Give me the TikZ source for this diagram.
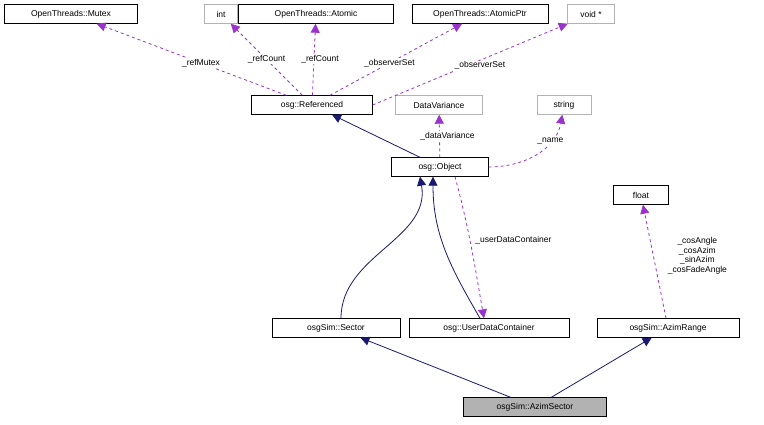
\documentclass[tikz,border=0pt]{standalone}
\usepackage{fontspec}
\setmainfont{Liberation Sans}
\usetikzlibrary{arrows.meta}
\definecolor{inhcol}{HTML}{191970}
\definecolor{memcol}{HTML}{9A32CD}
\tikzset{
  cls/.style = {draw, minimum height=19pt, inner sep=2pt, font=\fontsize{8.5}{10}\selectfont},
  ext/.style = {cls, draw=gray!60},
  inh/.style = {draw=inhcol, thick, -{Triangle[fill=inhcol, length=9pt, width=9pt]}},
  mem/.style = {draw=memcol, thick, dashed, -{Triangle[fill=memcol, length=9pt, width=9pt]}},
  lbl/.style = {font=\fontsize{8.5}{9.5}\selectfont, fill=white, inner sep=1pt}
}
\begin{document}
\begin{tikzpicture}[x=1pt, y=-1pt]
		\useasboundingbox (0,0) rectangle (764,425);
		
		% member types
		\node[cls, minimum width=133pt] (mutex) at (71,14) {OpenThreads::Mutex};
		\node[ext, minimum width=33pt] (int) at (221,14) {int};
		\node[cls, minimum width=155pt] (atomic) at (316,14) {OpenThreads::Atomic};
		\node[cls, minimum width=136pt] (atomicptr) at (480,14) {OpenThreads::AtomicPtr};
		\node[ext, minimum width=47pt] (void) at (591,14) {void *};
		\node[ext, minimum width=87pt] (datavar) at (439,105) {DataVariance};
		\node[ext, minimum width=54pt] (string) at (564,105) {string};
		\node[cls, minimum width=55pt] (float) at (641,195) {float};
		
		% classes
		\node[cls, minimum width=121pt] (referenced) at (312,105) {osg::Referenced};
		\node[cls, minimum width=97pt] (object) at (440,167) {osg::Object};
		\node[cls, minimum width=128pt] (sector) at (336,328) {osgSim::Sector};
		\node[cls, minimum width=160pt] (udc) at (489,328) {osg::UserDataContainer};
		\node[cls, minimum width=142pt] (azimrange) at (668,328) {osgSim::AzimRange};
		\node[cls, minimum width=143pt, fill=gray!60] (azimsector) at (535,407) {osgSim::AzimSector};
		
		% inheritance
		\draw[inh] (azimsector) -- (sector);
		\draw[inh] (azimsector) -- (azimrange);
		\draw[inh] ([xshift=5pt]sector.north) to[out=90, in=-80] ([xshift=-20pt]object.south);
		\draw[inh] ([xshift=-9pt]udc.north) to[out=120, in=-90] ([xshift=-7pt]object.south);
		\draw[inh] (object) -- (referenced);
		
		% members
		\draw[mem] (referenced) -- node[lbl, pos=0.45] {\_refMutex} (mutex);
		\draw[mem] (referenced) -- node[lbl, pos=0.5] {\_refCount} (int);
		\draw[mem] (referenced) -- node[lbl, pos=0.5, xshift=6pt] {\_refCount} (atomic);
		\draw[mem] (referenced) -- node[lbl, pos=0.45] {\_observerSet} (atomicptr);
		\draw[mem] (referenced.east) -- node[lbl, pos=0.55, below] {\_observerSet} (void);
		\draw[mem] (object) -- node[lbl, pos=0.5, xshift=8pt] {\_dataVariance} (datavar);
		\draw[mem] (object.east) to[out=0, in=-100] node[lbl, pos=0.7] {\_name} (string);
		\draw[mem] ([xshift=15pt]object.south) to[out=-75, in=100] node[lbl, pos=0.45, right=4pt] {\_userDataContainer} ([xshift=-5pt]udc.north);
		\draw[mem] (azimrange) -- node[lbl, pos=0.55, align=center, xshift=44pt] {\_cosAngle\\\_cosAzim\\\_sinAzim\\\_cosFadeAngle} (float);
		
\end{tikzpicture}
\end{document}
